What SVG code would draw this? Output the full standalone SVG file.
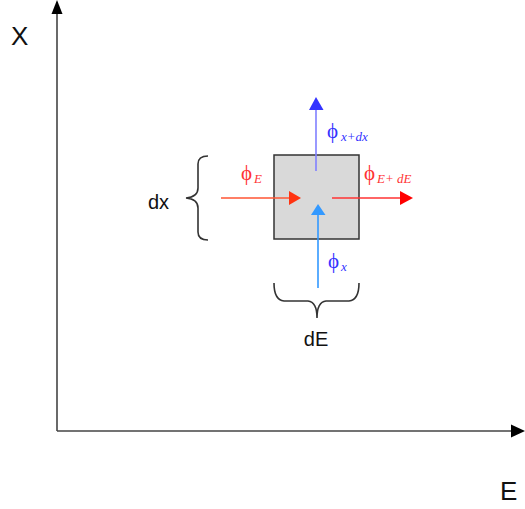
<svg xmlns="http://www.w3.org/2000/svg" width="525" height="509" viewBox="0 0 525 509">
<style>
.lbl{font-family:"Liberation Sans",Arial,sans-serif;font-size:20px;fill:#111}
.big{font-size:26px}
.phi{font-family:"Liberation Serif","Times New Roman",serif;font-size:21px}
.sub{font-family:"Liberation Serif","Times New Roman",serif;font-style:italic;font-size:13px}
.brace{fill:none;stroke:#333;stroke-width:1.6}
</style>
<rect width="525" height="509" fill="#fff"/>
<g id="axes">
<line x1="57" y1="431" x2="57" y2="14" stroke="#444" stroke-width="1.6"/>
<path d="M51.5,14 L57,0 L62.5,14 Z" fill="#000"/>
<line x1="57" y1="431" x2="511" y2="431" stroke="#444" stroke-width="1.6"/>
<path d="M511,424.5 L525,431 L511,437.5 Z" fill="#000"/>
<text class="lbl big" x="11" y="45">X</text>
<text class="lbl big" x="500" y="500">E</text>
</g>
<g id="cell">
<rect x="274" y="155" width="85" height="84" fill="#d9d9d9" stroke="#333" stroke-width="1.5"/>
</g>
<g id="connectors">
<line x1="316" y1="171" x2="316" y2="110" stroke="#8080ff" stroke-width="1.6"/>
<path d="M309,110 L316,97 L323.5,110 Z" fill="#3333ff"/>
<line x1="221" y1="198" x2="289" y2="198" stroke="#ff5533" stroke-width="1.6"/>
<path d="M289,191 L301,198 L289,205 Z" fill="#ff3311"/>
<line x1="332" y1="198" x2="400" y2="198" stroke="#ff3333" stroke-width="1.6"/>
<path d="M400,191 L413,198 L400,205 Z" fill="#ff0000"/>
<line x1="318" y1="288" x2="318" y2="215" stroke="#3399ff" stroke-width="1.6"/>
<path d="M311,215 L318,204 L325.5,215 Z" fill="#3399ff"/>
</g>
<g id="labels">
<text x="327" y="138" fill="#3333ff"><tspan class="phi">ϕ</tspan><tspan class="sub" dx="3" dy="3">x+dx</tspan></text>
<text x="241" y="180" fill="#ff3333"><tspan class="phi">ϕ</tspan><tspan class="sub" dx="2" dy="3">E</tspan></text>
<text x="364" y="180" fill="#ff3333"><tspan class="phi">ϕ</tspan><tspan class="sub" dx="2" dy="3">E+ dE</tspan></text>
<text x="328" y="268" fill="#3333ff"><tspan class="phi">ϕ</tspan><tspan class="sub" dx="2" dy="3">x</tspan></text>
</g>
<g id="brace-dx">
<path class="brace" d="M208,156 Q198,156 198,164 L198,188 Q198,197 186,198 Q198,199 198,208 L198,232 Q198,240 208,240"/>
<text class="lbl" x="148" y="209">dx</text>
</g>
<g id="brace-dE">
<path class="brace" d="M274,283 Q274,300 284,301 L308,301 Q317,302 317,318 Q317,302 326,301 L349,301 Q359,300 359,283"/>
<text class="lbl" x="316" y="346" text-anchor="middle">dE</text>
</g>
</svg>
